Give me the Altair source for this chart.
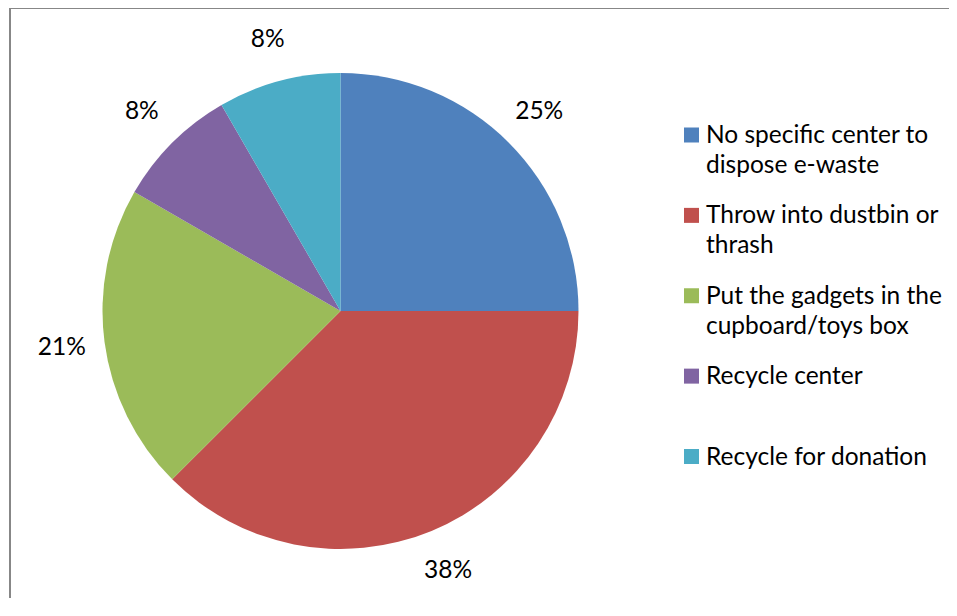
import altair as alt
import pandas as pd

categories = [
    "No specific center to dispose e-waste",
    "Throw into dustbin or thrash",
    "Put the gadgets in the cupboard/toys box",
    "Recycle center",
    "Recycle for donation",
]
legend_labels = [
    "No specific center to\ndispose e-waste",
    "Throw into dustbin or\nthrash",
    "Put the gadgets in the\ncupboard/toys box",
    "Recycle center",
    "Recycle for donation",
]
counts = [6, 9, 5, 2, 2]
colors = ["#4F81BD", "#C0504D", "#9BBB59", "#8064A2", "#4BACC6"]

df = pd.DataFrame({
    "category": categories,
    "legend": legend_labels,
    "count": counts,
    "order": list(range(len(categories))),
})

W, H = 939, 590
FONT = "Lato"
FS = 24.5
CX, CY = 330.5, 303
FRAME = "#878787"

base = alt.Chart(df).transform_joinaggregate(
    total="sum(count)"
).transform_calculate(
    pct="format(datum.count / datum.total, '.0%')"
)

color = alt.Color("category:N", scale=alt.Scale(domain=categories, range=colors), legend=None)

pie = base.mark_arc(outerRadius=238).encode(
    theta=alt.Theta("count:Q", stack=True),
    order=alt.Order("order:Q"),
    color=color,
    x=alt.value(CX),
    y=alt.value(CY),
)

pct_labels = base.mark_text(radius=281, font=FONT, fontSize=FS, color="#000000").encode(
    theta=alt.Theta("count:Q", stack=True),
    order=alt.Order("order:Q"),
    text="pct:N",
    x=alt.value(CX),
    y=alt.value(CY),
)

ypos = alt.Y(
    "category:N",
    scale=alt.Scale(type="point", domain=categories, range=[127, 448.5], padding=0),
    axis=None,
)

leg_sym = alt.Chart(df).mark_square(size=225, opacity=1).encode(
    y=ypos,
    x=alt.value(681.5),
    color=color,
)

leg_txt = alt.Chart(df).mark_text(
    align="left", baseline="top", dy=-11, lineBreak="\n", lineHeight=30,
    font=FONT, fontSize=FS, color="#000000",
).encode(
    y=ypos,
    x=alt.value(696),
    text="legend:N",
)

frame_df = pd.DataFrame({"edge": ["frame"]})
frame_top = alt.Chart(frame_df).mark_rule(color=FRAME, strokeWidth=2).encode(y=alt.value(0))
frame_left = alt.Chart(frame_df).mark_rule(color=FRAME, strokeWidth=2).encode(x=alt.value(0))

chart = alt.layer(frame_top, frame_left, pie, pct_labels, leg_sym, leg_txt).properties(
    width=W,
    height=H,
    autosize=alt.AutoSizeParams(type="none"),
    padding={"left": 2, "top": 0, "right": 0, "bottom": 0},
).configure_view(
    stroke="#ffffff",
    strokeWidth=0,
    strokeOpacity=0,
)

chart.save("out.html", embed_options={"renderer": "svg", "actions": False})
